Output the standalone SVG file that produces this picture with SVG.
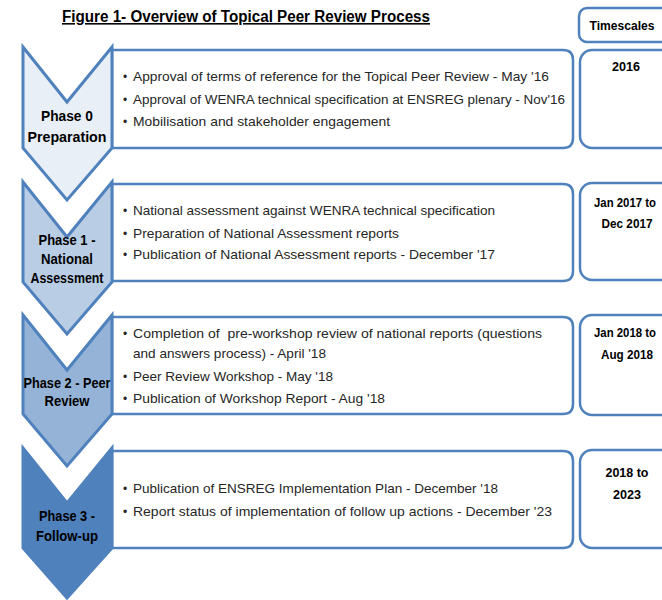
<svg xmlns="http://www.w3.org/2000/svg" width="662" height="600" viewBox="0 0 662 600">
<style>
.bg{fill:#ffffff}
.chev{stroke:#4F81BD;stroke-width:3;stroke-linejoin:miter}
.box{fill:#ffffff;stroke:#4F81BD;stroke-width:2.5}
.ts{fill:#ffffff;stroke:#4F81BD;stroke-width:2.5}
.body{font-family:"Liberation Sans",Arial,sans-serif;font-size:13.5px;fill:#262626}
.bul{font-size:12px}
.lab{font-family:"Liberation Sans",Arial,sans-serif;font-size:14.5px;font-weight:bold;fill:#000000;text-anchor:middle}
.tst{font-family:"Liberation Sans",Arial,sans-serif;font-size:12.5px;font-weight:bold;fill:#000000;text-anchor:middle}
.title{font-family:"Liberation Sans",Arial,sans-serif;font-size:16px;font-weight:bold;fill:#000000;text-decoration:underline}
</style>
<rect class="bg" x="0" y="0" width="662" height="600"/>
<text class="title" x="62" y="22" textLength="368" lengthAdjust="spacingAndGlyphs">Figure 1- Overview of Topical Peer Review Process</text>

<g id="timescales-header">
<rect class="ts" x="579" y="8" width="110" height="34" rx="8"/>
<text class="tst" x="622" y="30" textLength="65" lengthAdjust="spacingAndGlyphs">Timescales</text>
</g>

<g id="phase0">
<path class="box" d="M112,50 H563 Q573,50 573,60 V138 Q573,148 563,148 H112 Z"/>
<path class="chev" fill="#E9EFF7" d="M23,47 L67,102 L112,47 L112,148 L67,200 L23,148 Z"/>
<text class="lab" x="67" y="121" textLength="52" lengthAdjust="spacingAndGlyphs">Phase 0</text>
<text class="lab" x="67" y="142" textLength="79" lengthAdjust="spacingAndGlyphs">Preparation</text>
<g class="body">
<text class="bul" x="123" y="81">•</text><text x="133" y="81" textLength="416" lengthAdjust="spacingAndGlyphs">Approval of terms of reference for the Topical Peer Review - May '16</text>
<text class="bul" x="123" y="104">•</text><text x="133" y="104" textLength="432" lengthAdjust="spacingAndGlyphs">Approval of WENRA technical specification at ENSREG plenary - Nov'16</text>
<text class="bul" x="123" y="126">•</text><text x="133" y="126" textLength="257" lengthAdjust="spacingAndGlyphs">Mobilisation and stakeholder engagement</text>
</g>
<rect class="ts" x="580" y="50" width="110" height="98" rx="12"/>
<text class="tst" x="626" y="71" textLength="28" lengthAdjust="spacingAndGlyphs">2016</text>
</g>

<g id="phase1">
<path class="box" d="M112,184 H563 Q573,184 573,194 V271 Q573,281 563,281 H112 Z"/>
<path class="chev" fill="#B9CDE5" d="M23,182 L67,237 L112,182 L112,282 L67,334 L23,282 Z"/>
<text class="lab" x="67" y="245" textLength="57" lengthAdjust="spacingAndGlyphs">Phase 1 -</text>
<text class="lab" x="67" y="264" textLength="52" lengthAdjust="spacingAndGlyphs">National</text>
<text class="lab" x="67" y="283" textLength="73" lengthAdjust="spacingAndGlyphs">Assessment</text>
<g class="body">
<text class="bul" x="123" y="215">•</text><text x="133" y="215" textLength="362" lengthAdjust="spacingAndGlyphs">National assessment against WENRA technical specification</text>
<text class="bul" x="123" y="238">•</text><text x="133" y="238" textLength="266" lengthAdjust="spacingAndGlyphs">Preparation of National Assessment reports</text>
<text class="bul" x="123" y="259">•</text><text x="133" y="259" textLength="362" lengthAdjust="spacingAndGlyphs">Publication of National Assessment reports - December '17</text>
</g>
<rect class="ts" x="580" y="183" width="110" height="97" rx="12"/>
<text class="tst" x="625" y="207" textLength="62" lengthAdjust="spacingAndGlyphs">Jan 2017 to</text>
<text class="tst" x="627" y="228" textLength="51" lengthAdjust="spacingAndGlyphs">Dec 2017</text>
</g>

<g id="phase2">
<path class="box" d="M112,317 H563 Q573,317 573,327 V404 Q573,414 563,414 H112 Z"/>
<path class="chev" fill="#95B3D7" d="M23,315 L67,370 L112,315 L112,414 L67,466 L23,414 Z"/>
<text class="lab" x="67" y="388" textLength="87" lengthAdjust="spacingAndGlyphs" style="font-size:14px">Phase 2 - Peer</text>
<text class="lab" x="67" y="406" textLength="45" lengthAdjust="spacingAndGlyphs">Review</text>
<g class="body">
<text class="bul" x="123" y="338">•</text><text x="133" y="338" textLength="409" lengthAdjust="spacingAndGlyphs" xml:space="preserve">Completion of  pre-workshop review of national reports (questions</text>
<text x="133" y="358" textLength="193" lengthAdjust="spacingAndGlyphs">and answers process) - April '18</text>
<text class="bul" x="123" y="381">•</text><text x="133" y="381" textLength="200" lengthAdjust="spacingAndGlyphs">Peer Review Workshop - May '18</text>
<text class="bul" x="123" y="403">•</text><text x="133" y="403" textLength="252" lengthAdjust="spacingAndGlyphs">Publication of Workshop Report - Aug '18</text>
</g>
<rect class="ts" x="580" y="315" width="110" height="100" rx="12"/>
<text class="tst" x="625" y="337" textLength="62" lengthAdjust="spacingAndGlyphs">Jan 2018 to</text>
<text class="tst" x="627" y="359" textLength="52" lengthAdjust="spacingAndGlyphs">Aug 2018</text>
</g>

<g id="phase3">
<path class="box" d="M112,451 H563 Q573,451 573,461 V538 Q573,548 563,548 H112 Z"/>
<path class="chev" fill="#4F81BD" stroke="#4A7AB5" d="M23,448 L67,503 L112,448 L112,548 L67,598 L23,548 Z"/>
<text class="lab" x="67" y="521" textLength="56" lengthAdjust="spacingAndGlyphs">Phase 3 -</text>
<text class="lab" x="67" y="541" textLength="62" lengthAdjust="spacingAndGlyphs">Follow-up</text>
<g class="body">
<text class="bul" x="123" y="493">•</text><text x="133" y="493" textLength="365" lengthAdjust="spacingAndGlyphs">Publication of ENSREG Implementation Plan - December '18</text>
<text class="bul" x="123" y="516">•</text><text x="133" y="516" textLength="419" lengthAdjust="spacingAndGlyphs">Report status of implementation of follow up actions - December '23</text>
</g>
<rect class="ts" x="580" y="450" width="110" height="98" rx="12"/>
<text class="tst" x="627" y="477" textLength="43" lengthAdjust="spacingAndGlyphs">2018 to</text>
<text class="tst" x="627" y="499" textLength="28" lengthAdjust="spacingAndGlyphs">2023</text>
</g>

<g id="connectors"></g>
</svg>
